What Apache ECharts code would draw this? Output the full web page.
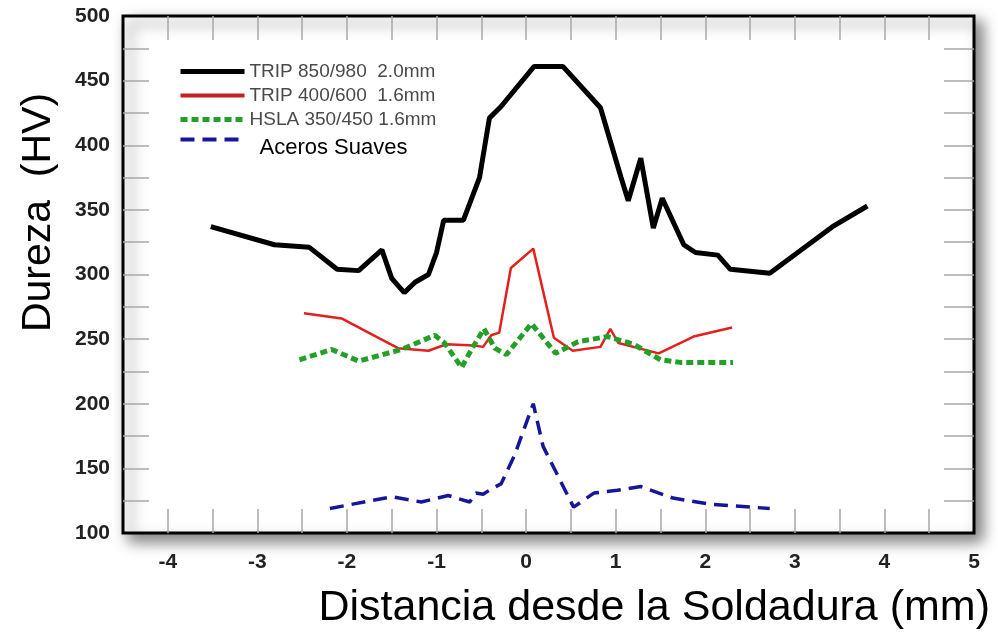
<!DOCTYPE html>
<html>
<head>
<meta charset="utf-8">
<script src="https://cdn.jsdelivr.net/npm/echarts@6/dist/echarts.min.js"></script>
<style>
html,body{margin:0;padding:0;background:#fff;}
#chart{width:998px;height:633px;}
</style>
</head>
<body>
<div id="chart"></div>
<script>
// Series names
var seriesNames = ['TRIP 850/980  2.0mm', 'TRIP 400/600  1.6mm', 'HSLA 350/450 1.6mm', 'Aceros Suaves'];

// TRIP 850/980 2.0mm (black)
var trip850X = [-3.52, -2.81, -2.42, -2.11, -1.87, -1.61, -1.5, -1.36, -1.24, -1.09, -1.0, -0.92, -0.70, -0.52, -0.41, -0.28, 0.09, 0.41, 0.83, 1.06, 1.14, 1.28, 1.42, 1.52, 1.76, 1.89, 2.14, 2.28, 2.72, 3.42, 3.81];
var trip850Y = [337, 323, 321, 304, 303, 319, 297, 286, 294, 300, 317, 342, 342, 375, 421, 430, 461, 461, 429, 375, 357, 390, 336, 359, 323, 317, 315, 304, 301, 337, 353];

// TRIP 400/600 1.6mm (red)
var trip400X = [-2.48, -2.06, -1.76, -1.43, -1.09, -0.89, -0.58, -0.48, -0.39, -0.30, -0.17, 0.08, 0.31, 0.52, 0.83, 0.94, 1.03, 1.48, 1.87, 2.30];
var trip400Y = [270, 266, 255, 243, 241, 246, 245, 244, 253, 255, 305, 320, 251, 241, 244, 258, 247, 239, 252, 259];

// HSLA 350/450 1.6mm (green)
var hslaX = [-2.53, -2.17, -1.87, -1.39, -1.02, -0.91, -0.72, -0.61, -0.47, -0.35, -0.22, 0.06, 0.33, 0.58, 0.91, 1.2, 1.5, 1.72, 2.31];
var hslaY = [234, 242, 233, 242, 253, 247, 228, 242, 258, 243, 238, 262, 239, 248, 252, 246, 234, 232, 232];

// Aceros Suaves (blue)
var suaveX = [-2.19, -1.5, -1.17, -0.87, -0.63, -0.56, -0.48, -0.39, -0.28, -0.13, 0.08, 0.19, 0.53, 0.76, 1.02, 1.28, 1.64, 2.09, 2.72];
var suaveY = [119, 128, 124, 129, 124, 131, 130, 134, 138, 160, 200, 167, 120, 131, 133, 136, 127, 122, 119];

// Axis settings
var xMin = -4.5, xMax = 5, xStep = 0.5;
var yMin = 100, yMax = 500, yStep = 25;
var xTickLabels = [-4, -3, -2, -1, 0, 1, 2, 3, 4, 5];
var yTickLabels = [100, 150, 200, 250, 300, 350, 400, 450, 500];
var xTitle = 'Distancia desde la Soldadura (mm)';
var yTitle = 'Dureza  (HV)';

function pairs(xs, ys) { return xs.map(function (x, i) { return [x, ys[i]]; }); }
function innerTicks(min, max, step) {
  var out = [];
  var n = Math.round((max - min) / step);
  for (var i = 1; i < n; i++) out.push(+(min + i * step).toFixed(6));
  return out;
}
var xTicks = innerTicks(xMin, xMax, xStep);
var yTicks = innerTicks(yMin, yMax, yStep);

var FONT = '"Liberation Sans", Arial, sans-serif';
var tickStyle = { color: '#a8a8a8', width: 1.5 };
var styles = [
  { color: '#000', width: 5, type: 'solid' },
  { color: '#e3201d', width: 2.5, type: 'solid' },
  { color: '#23a028', width: 5, type: [7, 4] },
  { color: '#16169a', width: 3.5, type: [14, 8] }
];
var legendWidths = [5, 4, 5, 4];

var chart = echarts.init(document.getElementById('chart'));
chart.setOption({
  animation: false,
  backgroundColor: '#fff',
  grid: {
    left: 123, top: 16, right: 24, bottom: 100,
    outerBoundsMode: 'none', containLabel: false,
    show: true, backgroundColor: '#fff', borderColor: '#000', borderWidth: 3,
    shadowBlur: 14, shadowColor: 'rgba(0,0,0,0.5)', shadowOffsetX: 7, shadowOffsetY: 7
  },
  legend: {
    orient: 'vertical', left: 173, top: 57,
    itemWidth: 64, itemHeight: 14, itemGap: 5,
    itemStyle: { opacity: 0 },
    data: seriesNames.map(function (n, i) {
      return { name: n, lineStyle: { width: legendWidths[i], color: i === 1 ? '#c42020' : styles[i].color, type: styles[i].type } };
    }),
    formatter: function (name) {
      return name === 'Aceros Suaves' ? '{b|' + name + '}' : name;
    },
    textStyle: {
      fontFamily: FONT, fontSize: 19, color: '#4a4a4a',
      rich: { b: { fontFamily: FONT, fontSize: 22, color: '#000', padding: [16, 0, 0, 10] } }
    }
  },
  xAxis: [{
    type: 'value', min: xMin, max: xMax, interval: xStep,
    axisLine: { show: false, onZero: false }, splitLine: { show: false },
    axisTick: { show: true, inside: true, length: 24, lineStyle: tickStyle, customValues: xTicks },
    axisLabel: {
      margin: 19, fontFamily: FONT, fontSize: 21, fontWeight: 'bold', color: '#222',
      customValues: xTickLabels
    },
    name: xTitle, nameLocation: 'end', nameGap: 16,
    nameTextStyle: { fontFamily: FONT, fontSize: 43, color: '#000', align: 'right', verticalAlign: 'top', padding: [54, 0, 0, 0] }
  }, {
    type: 'value', position: 'top', min: xMin, max: xMax, interval: xStep,
    axisLine: { show: false, onZero: false }, splitLine: { show: false }, axisLabel: { show: false },
    axisTick: { show: true, inside: true, length: 24, lineStyle: tickStyle, customValues: xTicks }
  }],
  yAxis: [{
    type: 'value', min: yMin, max: yMax, interval: yStep,
    axisLine: { show: false, onZero: false }, splitLine: { show: false },
    axisTick: { show: true, inside: true, length: 26, lineStyle: tickStyle, customValues: yTicks },
    axisLabel: {
      margin: 13, fontFamily: FONT, fontSize: 21, fontWeight: 'bold', color: '#222',
      customValues: yTickLabels
    },
    name: yTitle, nameLocation: 'middle', nameRotate: 90, nameGap: 64,
    nameTextStyle: { fontFamily: FONT, fontSize: 41, color: '#000', padding: [0, 0, 0, 124] }
  }, {
    type: 'value', position: 'right', min: yMin, max: yMax, interval: yStep,
    axisLine: { show: false, onZero: false }, splitLine: { show: false }, axisLabel: { show: false },
    axisTick: { show: true, inside: true, length: 30, lineStyle: tickStyle, customValues: yTicks }
  }],
  series: seriesNames.map(function (n, i) {
    var xs = [trip850X, trip400X, hslaX, suaveX][i];
    var ys = [trip850Y, trip400Y, hslaY, suaveY][i];
    return {
      name: n, type: 'line', symbol: 'none',
      data: pairs(xs, ys),
      lineStyle: styles[i], itemStyle: { color: styles[i].color }
    };
  })
});
</script>
</body>
</html>
